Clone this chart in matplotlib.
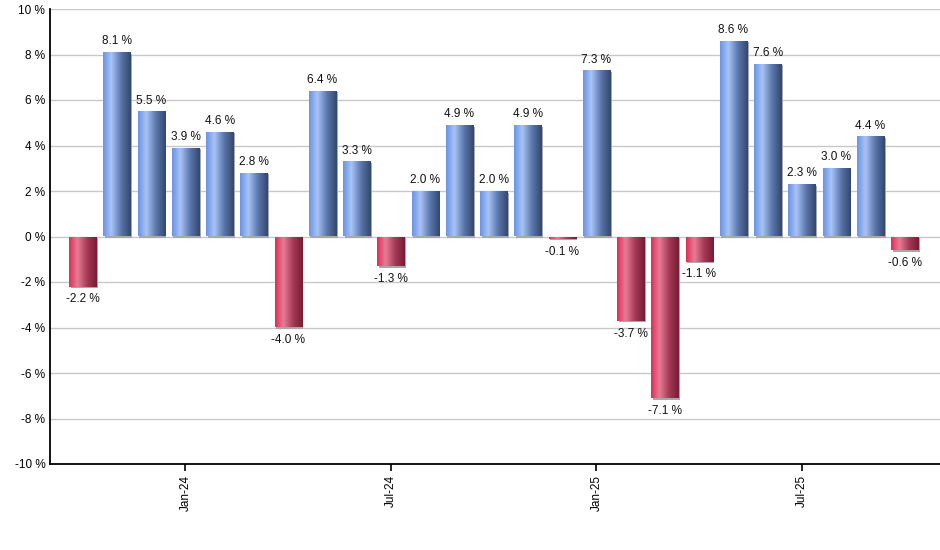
import numpy as np
import matplotlib
matplotlib.use("Agg")
import matplotlib.pyplot as plt
from matplotlib.colors import LinearSegmentedColormap
import matplotlib.transforms as mtransforms

months = ["Oct-23", "Nov-23", "Dec-23", "Jan-24", "Feb-24", "Mar-24", "Apr-24", "May-24",
          "Jun-24", "Jul-24", "Aug-24", "Sep-24", "Oct-24", "Nov-24", "Dec-24", "Jan-25",
          "Feb-25", "Mar-25", "Apr-25", "May-25", "Jun-25", "Jul-25", "Aug-25", "Sep-25", "Oct-25"]
values = [-2.2, 8.1, 5.5, 3.9, 4.6, 2.8, -4.0, 6.4, 3.3, -1.3, 2.0, 4.9, 2.0, 4.9, -0.1,
          7.3, -3.7, -7.1, -1.1, 8.6, 7.6, 2.3, 3.0, 4.4, -0.6]
tick_labels = ["Jan-24", "Jul-24", "Jan-25", "Jul-25"]
y_ticks = [-10, -8, -6, -4, -2, 0, 2, 4, 6, 8, 10]

plt.rcParams['font.family'] = ['Liberation Sans', 'DejaVu Sans']
FS = 8.5

fig = plt.figure(figsize=(9.4, 5.5), dpi=100)
ax = fig.add_axes([49.5 / 940, 86 / 550, 1 - 49.5 / 940, 455 / 550])

x = np.arange(len(values))
width = 0.79

blue_cmap = LinearSegmentedColormap.from_list(
    "b", [(0, "#6a93e4"), (0.3, "#a8c3f6"), (0.65, "#5a76aa"), (1, "#33476b")])
red_cmap = LinearSegmentedColormap.from_list(
    "r", [(0, "#de2c55"), (0.3, "#e87c94"), (0.65, "#a53a55"), (1, "#761c32")])

shadow_tr = mtransforms.offset_copy(ax.transData, fig=fig, x=1.5, y=-1.5, units='dots')
ax.bar(x, values, width=width, color="#a8a8a8", transform=shadow_tr, zorder=2, linewidth=0)
bars = ax.bar(x, values, width=width, color="none", linewidth=0, zorder=3)

grad = np.linspace(0, 1, 256).reshape(1, -1)
for xi, v, b in zip(x, values, bars):
    cmap = blue_cmap if v >= 0 else red_cmap
    im = ax.imshow(grad, cmap=cmap, aspect='auto',
                   extent=[xi - width / 2, xi + width / 2, min(0, v), max(0, v)],
                   zorder=3, interpolation='bilinear')
    im.set_clip_path(b)
    if v >= 0:
        ax.annotate(f"{v:.1f} %", (xi, v), xytext=(0, 3.5), textcoords='offset points',
                    ha='center', va='bottom', fontsize=FS, color='#111111', zorder=5)
    else:
        ax.annotate(f"{v:.1f} %", (xi, v), xytext=(0, -5), textcoords='offset points',
                    ha='center', va='top', fontsize=FS, color='#111111', zorder=5)

ax.set_xlim(-0.97, 25.03)
ax.set_ylim(-10, 10)
ax.set_yticks(y_ticks)
ax.set_yticklabels([f"{t} %" for t in y_ticks], fontsize=FS)
ax.set_xticks([months.index(t) for t in tick_labels])
ax.set_xticklabels(tick_labels, rotation=90, fontsize=FS)
ax.tick_params(axis='x', length=5, width=1.2, color='black', pad=3)
ax.tick_params(axis='y', length=0, pad=3)
ax.grid(axis='y', color='#c8c8c8', linewidth=1, zorder=0)
ax.set_axisbelow(True)
for s in ['top', 'right']:
    ax.spines[s].set_visible(False)
for s in ['left', 'bottom']:
    ax.spines[s].set_linewidth(1.3)
    ax.spines[s].set_color('black')

fig.savefig("out.png", dpi=100)
